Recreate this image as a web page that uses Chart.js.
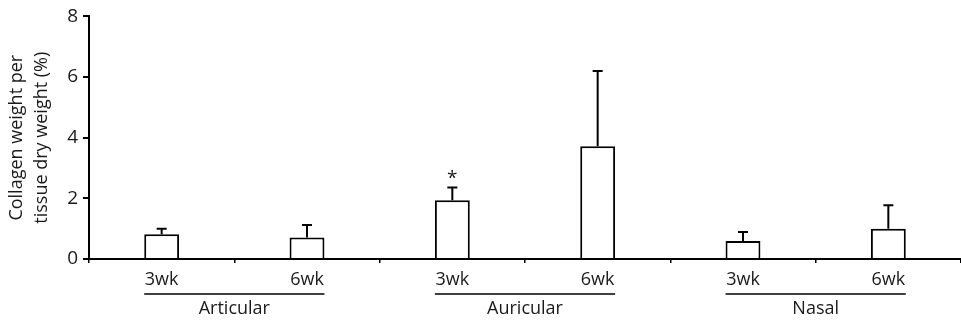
<!DOCTYPE html>
<html lang="en">
<head>
  <meta charset="UTF-8">
  <title>Collagen weight per tissue dry weight</title>
  <script src="https://cdn.jsdelivr.net/npm/chart.js"></script>
  <style>
    html, body { margin: 0; padding: 0; background: #fff; overflow: hidden; }
  </style>
</head>
<body>
  <canvas id="grafico" width="961" height="326"></canvas>

  <script>
    // Data
    const semanas = ["3wk", "6wk", "3wk", "6wk", "3wk", "6wk"];
    const grupos = ["Articular", "Auricular", "Nasal"];
    const medias = [0.82, 0.71, 1.94, 3.72, 0.59, 1.0];
    const erros = [0.18, 0.41, 0.42, 2.48, 0.30, 0.77];   // upper SD
    const significativo = [false, false, true, false, false, false];
    const ticksY = [0, 2, 4, 6, 8];

    const fonte = "'Open Sans', 'DejaVu Sans', sans-serif";
    const corTexto = '#1a1a1a';

    // error bars, asterisk, group underline and group names
    const extras = {
      id: 'extras',
      afterDatasetsDraw(chart) {
        const ctx = chart.ctx;
        const x = chart.scales.x, y = chart.scales.y;
        const meta = chart.getDatasetMeta(0);
        ctx.save();
        ctx.strokeStyle = '#000';
        ctx.lineWidth = 2;
        meta.data.forEach((bar, i) => {
          const topo = y.getPixelForValue(medias[i] + erros[i]);
          ctx.beginPath();
          ctx.moveTo(bar.x, bar.y);
          ctx.lineTo(bar.x, topo);
          ctx.moveTo(bar.x - 5, topo);
          ctx.lineTo(bar.x + 5, topo);
          ctx.stroke();
          if (significativo[i]) {
            ctx.fillStyle = corTexto;
            ctx.font = '19px ' + fonte;
            ctx.textAlign = 'center';
            ctx.textBaseline = 'middle';
            ctx.fillText('*', bar.x, topo - 9);
          }
        });
        // groups
        ctx.lineWidth = 1.5;
        ctx.font = '18px ' + fonte;
        ctx.fillStyle = corTexto;
        ctx.textAlign = 'center';
        ctx.textBaseline = 'middle';
        grupos.forEach((g, k) => {
          const b1 = meta.data[k * 2], b2 = meta.data[k * 2 + 1];
          const esq = b1.x - b1.width / 2, dir = b2.x + b2.width / 2;
          const linhaY = 294;
          ctx.beginPath();
          ctx.moveTo(esq, linhaY);
          ctx.lineTo(dir, linhaY);
          ctx.stroke();
          ctx.fillText(g, (esq + dir) / 2, linhaY + 15);
        });
        ctx.restore();
      }
    };

    const config = {
      type: 'bar',
      data: {
        labels: semanas,
        datasets: [{
          data: medias,
          backgroundColor: '#fff',
          borderColor: '#000',
          borderWidth: 2,
          categoryPercentage: 1,
          barPercentage: 0.24
        }]
      },
      options: {
        responsive: false,
        animation: false,
        layout: { padding: { top: 10, right: 0, left: 0, bottom: 0 } },
        plugins: {
          legend: { display: false },
          tooltip: { enabled: false }
        },
        scales: {
          x: {
            afterFit(scale) { scale.height = 67; },
            grid: { display: true, drawOnChartArea: false, offset: true, color: '#000', lineWidth: 1.5, tickLength: 4 },
            border: { display: true, color: '#000', width: 2 },
            ticks: { color: corTexto, font: { family: fonte, size: 18 }, padding: 6, maxRotation: 0 }
          },
          y: {
            min: 0,
            max: 8,
            afterFit(scale) { scale.width = 89; },
            afterBuildTicks(scale) { scale.ticks = ticksY.map(v => ({ value: v })); },
            grid: { display: true, drawOnChartArea: false, color: '#000', lineWidth: 2, tickLength: 6 },
            border: { display: true, color: '#000', width: 2 },
            ticks: { color: corTexto, font: { family: fonte, size: 19 }, padding: 5 },
            title: {
              display: true,
              text: ['Collagen weight per', 'tissue dry weight (%)'],
              color: corTexto,
              font: { family: fonte, size: 18, lineHeight: 1.4 },
              padding: { top: 4, bottom: 0 }
            }
          }
        }
      },
      plugins: [extras]
    };

    new Chart(document.getElementById('grafico').getContext('2d'), config);
  </script>
</body>
</html>
